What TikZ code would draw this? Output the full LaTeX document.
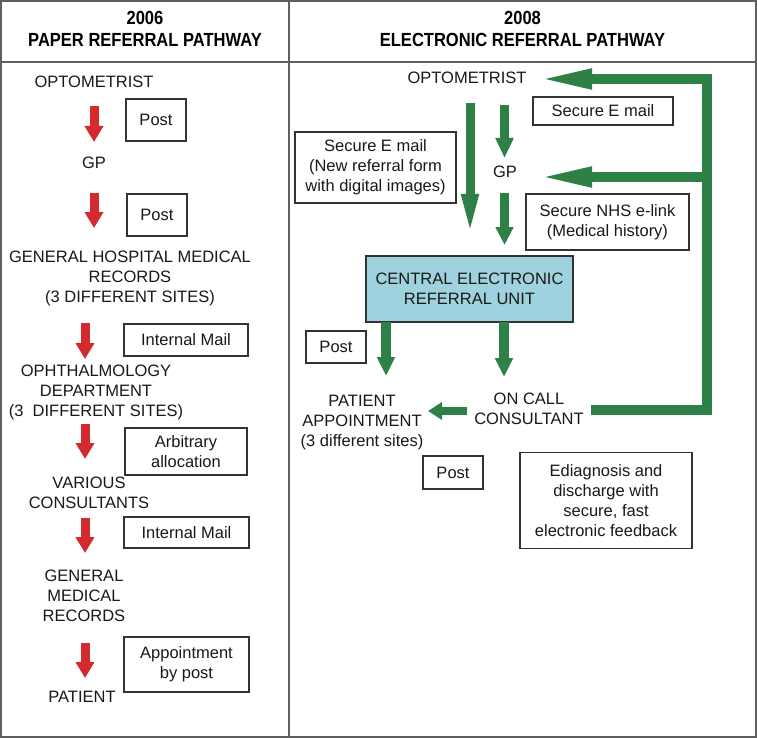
\documentclass[tikz,border=0pt]{standalone}
\usepackage{fontspec}
\setmainfont{Liberation Sans}
\newfontfamily\hdfont[FakeStretch=0.87]{Liberation Sans}
\usetikzlibrary{arrows.meta}
\definecolor{arrred}{RGB}{212,42,47}
\definecolor{arrgreen}{RGB}{46,129,70}
\definecolor{unitblue}{RGB}{158,210,223}
\definecolor{framegray}{RGB}{95,95,95}
\definecolor{boxgray}{RGB}{50,50,50}
\begin{document}
\begin{tikzpicture}[x=1pt,y=-1pt,
  txt/.style={font=\fontsize{16.5}{20}\selectfont, align=center, inner sep=0pt, text=black!90},
  hdr/.style={font=\hdfont\bfseries\fontsize{19}{22}\selectfont, align=center, inner sep=0pt},
  lbox/.style={draw=boxgray, line width=1.1pt, font=\fontsize{16.5}{20}\selectfont, align=center, inner sep=0pt, text=black!90},
  redarr/.style={draw=arrred, line width=9pt, -{Triangle[length=16pt,width=18pt]}},
  grnarr/.style={draw=arrgreen, line width=9pt, -{Triangle[length=19pt,width=17pt]}},
]
\useasboundingbox (0,0) rectangle (757,738);
\fill[white] (0,0) rectangle (757,738);
% frame
\draw[framegray, line width=1.5pt] (1,1) rectangle (756,737);
\draw[framegray, line width=1.2pt] (1,62) -- (756,62);
\draw[framegray, line width=1.2pt] (289,1) -- (289,737);

% headers
\node[hdr] (h1) at (145,29) {2006\\PAPER REFERRAL PATHWAY};
\node[hdr] (h2) at (522.5,29) {2008\\ELECTRONIC REFERRAL PATHWAY};

% ---------------- left column ----------------
\node[txt] (lopt) at (94,82) {OPTOMETRIST};
\node[txt] (lgp) at (94,163) {GP};
\node[txt] (lghmr) at (130,278.5) {GENERAL HOSPITAL MEDICAL\\RECORDS\\(3 DIFFERENT SITES)};
\node[txt] (loph) at (96,392.5) {OPHTHALMOLOGY\\DEPARTMENT\\(3\ \ DIFFERENT SITES)};
\node[txt] (lvar) at (89,493) {VARIOUS\\CONSULTANTS};
\node[txt] (lgmr) at (84,596) {GENERAL\\MEDICAL\\RECORDS};
\node[txt] (lpat) at (82,697) {PATIENT};

\node[lbox, minimum width=60pt, minimum height=42pt] (lpost1) at (156,120) {Post};
\node[lbox, minimum width=60pt, minimum height=42pt] (lpost2) at (157,215) {Post};
\node[lbox, minimum width=124pt, minimum height=32pt] (lim1) at (186,340) {Internal Mail};
\node[lbox, minimum width=122pt, minimum height=47pt] (larb) at (186,451.5) {Arbitrary\\allocation};
\node[lbox, minimum width=125pt, minimum height=31pt] (lim2) at (186.5,532.5) {Internal Mail};
\node[lbox, minimum width=125pt, minimum height=55pt] (lapp) at (186.5,664.5) {Appointment\\by post};

\coordinate (r1s) at (94,106);  \coordinate (r1e) at (94,142);
\coordinate (r2s) at (94,193);  \coordinate (r2e) at (94,228);
\coordinate (r3s) at (85,323);  \coordinate (r3e) at (85,359);
\coordinate (r4s) at (85,424);  \coordinate (r4e) at (85,459);
\coordinate (r5s) at (85,518);  \coordinate (r5e) at (85,553);
\coordinate (r6s) at (85,643);  \coordinate (r6e) at (85,678);
\draw[redarr] (r1s) -- (r1e);
\draw[redarr] (r2s) -- (r2e);
\draw[redarr] (r3s) -- (r3e);
\draw[redarr] (r4s) -- (r4e);
\draw[redarr] (r5s) -- (r5e);
\draw[redarr] (r6s) -- (r6e);

% ---------------- right column ----------------
\node[txt] (ropt) at (467,78) {OPTOMETRIST};
\node[txt] (rgp) at (505,172) {GP};
\node[lbox, minimum width=140pt, minimum height=28pt] (rsem1) at (603,111) {Secure E mail};
\node[lbox, minimum width=161pt, minimum height=71pt] (rsem2) at (375.5,167.5) {Secure E mail\\(New referral form\\with digital images)};
\node[lbox, minimum width=163pt, minimum height=56pt] (rnhs) at (607.5,222) {Secure NHS e-link\\(Medical history)};
\node[lbox, fill=unitblue, minimum width=207pt, minimum height=66pt] (unit) at (469.5,289) {CENTRAL ELECTRONIC\\REFERRAL UNIT};
\node[lbox, minimum width=60pt, minimum height=32pt] (rpost1) at (336,347) {Post};
\node[txt] (rpat) at (362,423) {PATIENT\\APPOINTMENT\\(3 different sites)};
\node[txt] (roncall) at (529,408.5) {ON CALL\\CONSULTANT};
\node[lbox, minimum width=60pt, minimum height=33pt] (rpost2) at (453,472.5) {Post};
\node[lbox, minimum width=172pt, minimum height=96pt] (rediag) at (606,500.5) {Ediagnosis and\\discharge with\\secure, fast\\electronic feedback};

\coordinate (g1s) at (470,103); \coordinate (g1e) at (470,238);
\coordinate (g2s) at (504.5,105); \coordinate (g2e) at (504.5,158);
\coordinate (g3s) at (504.5,193); \coordinate (g3e) at (504.5,245);
\coordinate (g4s) at (386,322); \coordinate (g4e) at (386,376);
\coordinate (g5s) at (504,322); \coordinate (g5e) at (504,377);
\coordinate (g6s) at (467,411); \coordinate (g6e) at (428,411);
\draw[grnarr, -{Triangle[length=44pt,width=15pt]}] (g1s) -- (g1e);
\draw[grnarr, -{Triangle[length=20pt,width=17pt]}] (g2s) -- (g2e);
\draw[grnarr, -{Triangle[length=18pt,width=17pt]}] (g3s) -- (g3e);
\draw[grnarr, line width=10pt] (g4s) -- (g4e);
\draw[grnarr, line width=10pt] (g5s) -- (g5e);
\draw[grnarr, line width=8pt, -{Triangle[length=14pt,width=17pt]}] (g6s) -- (g6e);

% feedback loop
\coordinate (fbs) at (591,410);
\coordinate (fbc1) at (707,410);
\coordinate (fbc2) at (707,79);
\coordinate (fbe) at (536,79);
\coordinate (fbg) at (707,177);
\coordinate (fbge) at (536,177);
\draw[draw=arrgreen, line width=10pt, line join=miter, -{Triangle[length=56pt,width=18pt]}] (fbs) -- (fbc1) -- (fbc2) -- (fbe);
\draw[draw=arrgreen, line width=10pt, -{Triangle[length=56pt,width=18pt]}] (fbg) -- (fbge);
\end{tikzpicture}
\end{document}
